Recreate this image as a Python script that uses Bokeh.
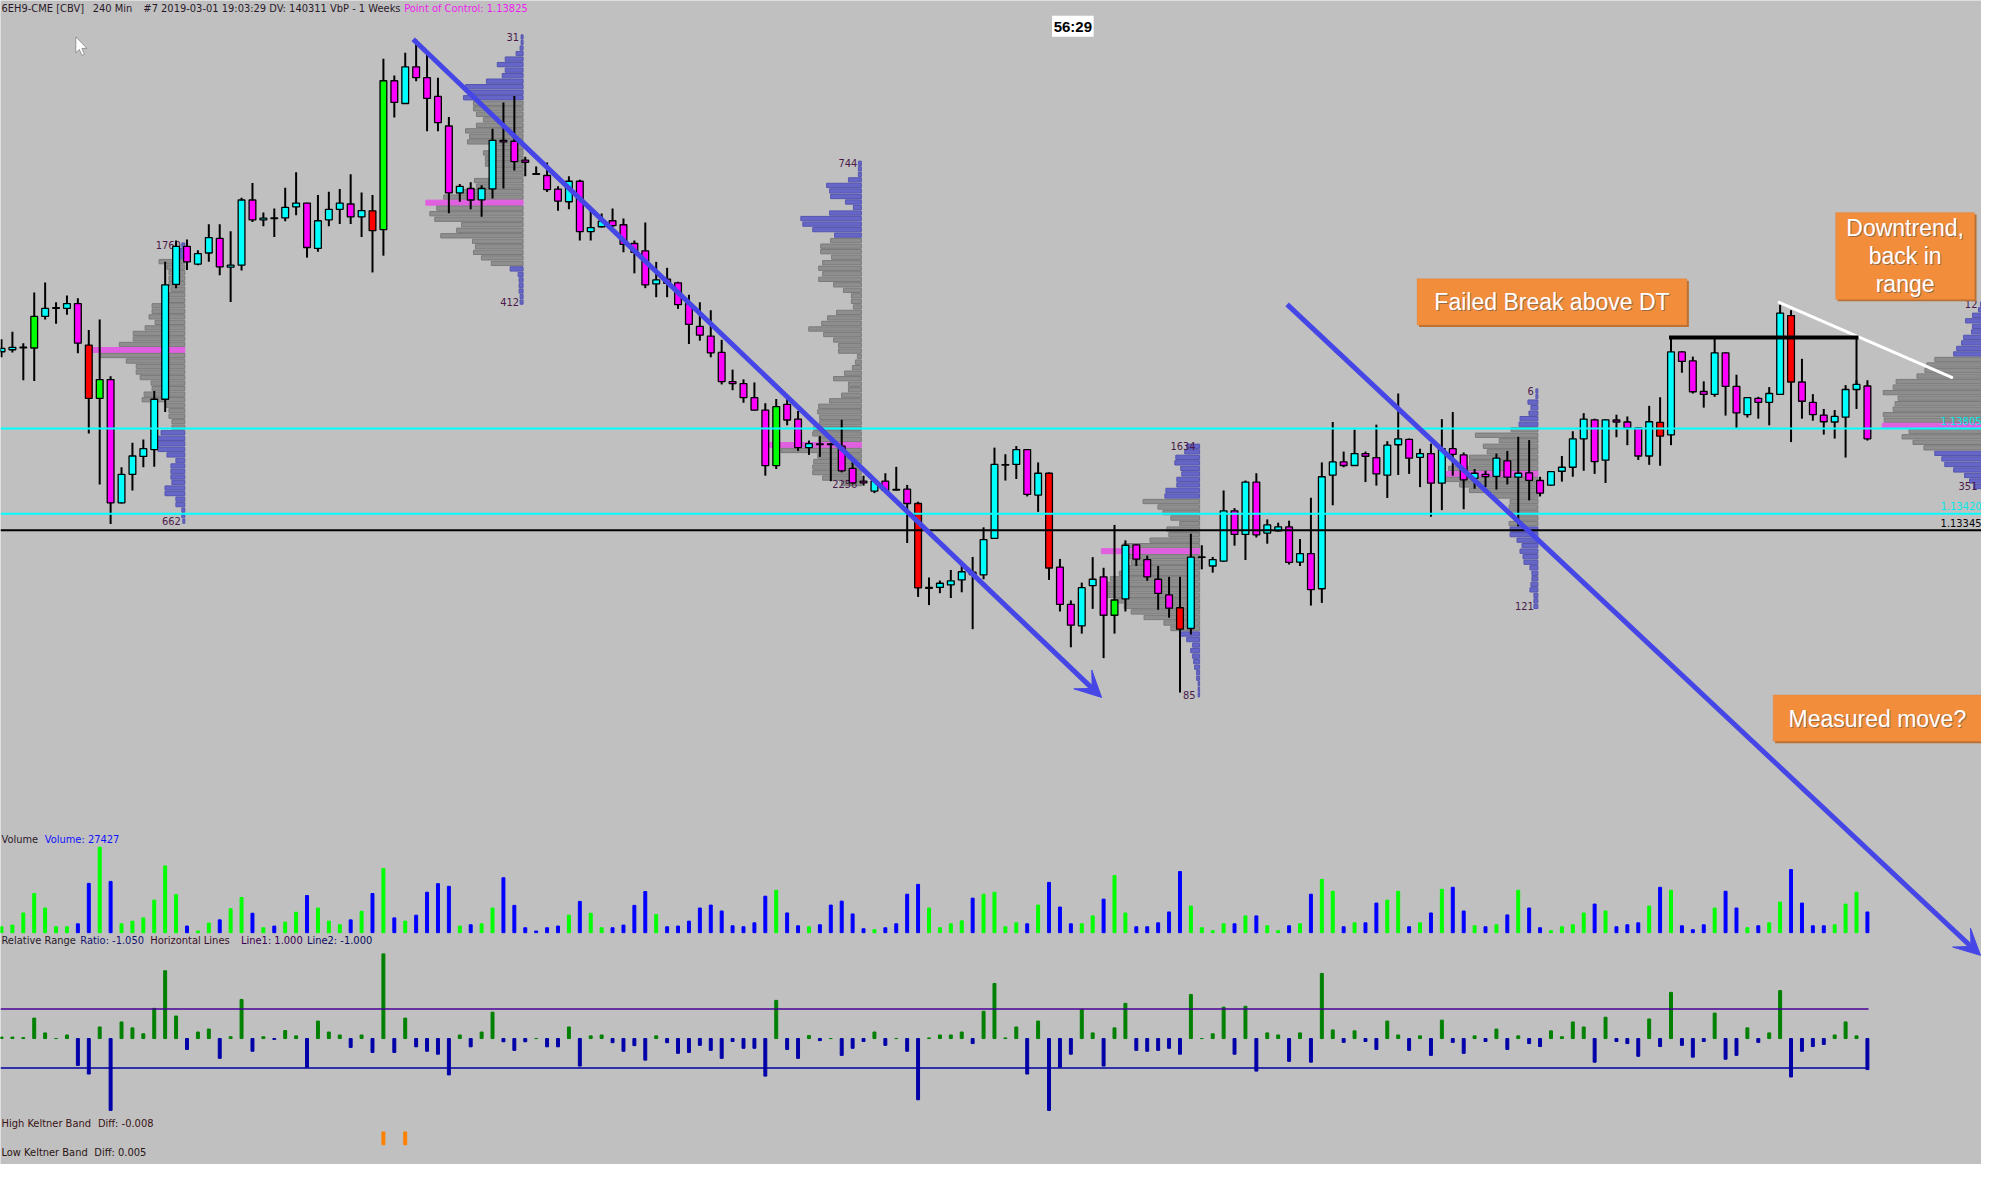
import numpy as np
from bokeh.plotting import figure
from bokeh.models import (ColumnDataSource, Range1d, Span, Arrow, VeeHead, Label,
                          BoxAnnotation, PolyAnnotation)
from bokeh.core.properties import value
from bokeh.embed import file_html
from bokeh.resources import INLINE

# ------------------------------------------------------------------ data
opens = [
    1.14153, 1.14162, 1.14172, 1.14170, 1.14313, 1.14350, 1.14349, 1.14371, 1.14183, 1.13942,
    1.14027, 1.13469, 1.13598, 1.13679, 1.13710, 1.13938, 1.14458, 1.14630, 1.14550, 1.14600,
    1.14666, 1.14536, 1.14545, 1.14840, 1.14750, 1.14759, 1.14759, 1.14809, 1.14826, 1.14621,
    1.14750, 1.14798, 1.14822, 1.14764, 1.14791, 1.14706, 1.15380, 1.15277, 1.15443, 1.15394,
    1.15309, 1.15175, 1.14872, 1.14892, 1.14841, 1.14890, 1.15110, 1.15106, 1.15021, 1.14958,
    1.14951, 1.14889, 1.14832, 1.14925, 1.14697, 1.14719, 1.14746, 1.14728, 1.14643, 1.14610,
    1.14460, 1.14482, 1.14465, 1.14371, 1.14268, 1.14224, 1.14150, 1.14018, 1.14009, 1.13945,
    1.13889, 1.13637, 1.13915, 1.13848, 1.13719, 1.13735, 1.13735, 1.13726, 1.13625, 1.13567,
    1.13522, 1.13567, 1.13529, 1.13531, 1.13466, 1.13082, 1.13086, 1.13098, 1.13120, 1.13155,
    1.13143, 1.13308, 1.13640, 1.13643, 1.13710, 1.13504, 1.13603, 1.13178, 1.13009, 1.12912,
    1.13094, 1.13134, 1.12960, 1.13034, 1.13279, 1.13212, 1.13123, 1.13052, 1.12994, 1.12900,
    1.13222, 1.13183, 1.13205, 1.13433, 1.13326, 1.13563, 1.13332, 1.13342, 1.13360, 1.13201,
    1.13239, 1.13080, 1.13594, 1.13654, 1.13638, 1.13692, 1.13674, 1.13594, 1.13732, 1.13756,
    1.13675, 1.13692, 1.13558, 1.13714, 1.13686, 1.13580, 1.13598, 1.13589, 1.13659, 1.13585,
    1.13605, 1.13570, 1.13549, 1.13612, 1.13630, 1.13759, 1.13845, 1.13662, 1.13844, 1.13835,
    1.13808, 1.13681, 1.13833, 1.13777, 1.14152, 1.14112, 1.13973, 1.13960, 1.14148, 1.13996,
    1.13868, 1.13942, 1.13924, 1.13960, 1.14317, 1.14016, 1.13924, 1.13866, 1.13835, 1.13857,
    1.13982, 1.13998]
highs = [
    1.14210, 1.14243, 1.14192, 1.14421, 1.14466, 1.14377, 1.14408, 1.14395, 1.14252, 1.14299,
    1.14042, 1.13630, 1.13741, 1.13756, 1.13975, 1.14560, 1.14657, 1.14661, 1.14612, 1.14730,
    1.14730, 1.14698, 1.14850, 1.14917, 1.14783, 1.14801, 1.14895, 1.14966, 1.14828, 1.14863,
    1.14877, 1.14890, 1.14957, 1.14874, 1.14863, 1.15480, 1.15404, 1.15507, 1.15568, 1.15502,
    1.15394, 1.15216, 1.14913, 1.14920, 1.14907, 1.15163, 1.15282, 1.15311, 1.15036, 1.14992,
    1.15010, 1.14902, 1.14947, 1.14932, 1.14791, 1.14779, 1.14801, 1.14756, 1.14657, 1.14738,
    1.14560, 1.14533, 1.14470, 1.14411, 1.14377, 1.14341, 1.14207, 1.14072, 1.14028, 1.14014,
    1.13920, 1.13939, 1.13945, 1.13885, 1.13751, 1.13771, 1.13741, 1.13845, 1.13659, 1.13592,
    1.13573, 1.13603, 1.13632, 1.13550, 1.13474, 1.13131, 1.13117, 1.13165, 1.13186, 1.13224,
    1.13358, 1.13719, 1.13689, 1.13726, 1.13712, 1.13652, 1.13607, 1.13215, 1.13027, 1.13108,
    1.13223, 1.13175, 1.13369, 1.13299, 1.13281, 1.13230, 1.13183, 1.13134, 1.13134, 1.13329,
    1.13277, 1.13224, 1.13525, 1.13445, 1.13570, 1.13603, 1.13394, 1.13379, 1.13388, 1.13305,
    1.13492, 1.13652, 1.13835, 1.13701, 1.13800, 1.13701, 1.13823, 1.13748, 1.13964, 1.13760,
    1.13714, 1.13737, 1.13848, 1.13880, 1.13697, 1.13622, 1.13614, 1.13692, 1.13704, 1.13768,
    1.13753, 1.13587, 1.13612, 1.13681, 1.13793, 1.13875, 1.13850, 1.13848, 1.13868, 1.13860,
    1.13810, 1.13908, 1.13947, 1.14155, 1.14155, 1.14131, 1.14019, 1.14150, 1.14150, 1.14049,
    1.13947, 1.13949, 1.13993, 1.14366, 1.14341, 1.14121, 1.13961, 1.13894, 1.13889, 1.14002,
    1.14024, 1.14024]
lows = [
    1.14128, 1.14150, 1.14024, 1.14021, 1.14299, 1.14280, 1.14320, 1.14146, 1.13783, 1.13552,
    1.13373, 1.13466, 1.13525, 1.13630, 1.13632, 1.13880, 1.14441, 1.14523, 1.14545, 1.14561,
    1.14499, 1.14378, 1.14521, 1.14740, 1.14721, 1.14673, 1.14744, 1.14771, 1.14579, 1.14606,
    1.14721, 1.14731, 1.14731, 1.14673, 1.14512, 1.14588, 1.15213, 1.15275, 1.15378, 1.15151,
    1.15151, 1.14780, 1.14832, 1.14798, 1.14764, 1.14847, 1.14892, 1.14974, 1.14947, 1.14955,
    1.14876, 1.14791, 1.14798, 1.14657, 1.14657, 1.14716, 1.14716, 1.14604, 1.14508, 1.14441,
    1.14400, 1.14400, 1.14347, 1.14188, 1.14203, 1.14128, 1.14005, 1.13979, 1.13922, 1.13887,
    1.13592, 1.13622, 1.13820, 1.13704, 1.13686, 1.13677, 1.13567, 1.13607, 1.13555, 1.13547,
    1.13513, 1.13518, 1.13525, 1.13287, 1.13043, 1.13006, 1.13060, 1.13038, 1.13064, 1.12897,
    1.13123, 1.13306, 1.13570, 1.13577, 1.13498, 1.13428, 1.13120, 1.12977, 1.12815, 1.12877,
    1.12989, 1.12766, 1.12877, 1.12977, 1.13183, 1.13116, 1.12985, 1.12949, 1.12610, 1.12873,
    1.13168, 1.13153, 1.13201, 1.13275, 1.13210, 1.13312, 1.13284, 1.13339, 1.13190, 1.13183,
    1.13004, 1.13016, 1.13458, 1.13630, 1.13636, 1.13563, 1.13547, 1.13491, 1.13595, 1.13600,
    1.13540, 1.13406, 1.13436, 1.13592, 1.13440, 1.13533, 1.13540, 1.13529, 1.13552, 1.13362,
    1.13480, 1.13498, 1.13547, 1.13565, 1.13587, 1.13614, 1.13600, 1.13559, 1.13766, 1.13730,
    1.13663, 1.13641, 1.13637, 1.13730, 1.14058, 1.13964, 1.13900, 1.13949, 1.13864, 1.13808,
    1.13855, 1.13850, 1.13820, 1.13958, 1.13744, 1.13850, 1.13841, 1.13778, 1.13760, 1.13674,
    1.13894, 1.13751]
closes = [
    1.14168, 1.14173, 1.14173, 1.14313, 1.14349, 1.14352, 1.14371, 1.14192, 1.13942, 1.14027,
    1.13469, 1.13598, 1.13681, 1.13714, 1.13938, 1.14456, 1.14630, 1.14560, 1.14597, 1.14670,
    1.14537, 1.14545, 1.14840, 1.14750, 1.14758, 1.14756, 1.14807, 1.14826, 1.14625, 1.14746,
    1.14798, 1.14826, 1.14764, 1.14792, 1.14701, 1.15380, 1.15282, 1.15443, 1.15394, 1.15300,
    1.15190, 1.14872, 1.14902, 1.14840, 1.14892, 1.15110, 1.15103, 1.15014, 1.15011, 1.14957,
    1.14887, 1.14835, 1.14925, 1.14697, 1.14715, 1.14744, 1.14724, 1.14639, 1.14603, 1.14456,
    1.14478, 1.14463, 1.14366, 1.14277, 1.14228, 1.14148, 1.14018, 1.14009, 1.13945, 1.13889,
    1.13637, 1.13905, 1.13844, 1.13719, 1.13737, 1.13733, 1.13733, 1.13614, 1.13559, 1.13559,
    1.13567, 1.13525, 1.13527, 1.13466, 1.13084, 1.13086, 1.13105, 1.13116, 1.13157, 1.13144,
    1.13302, 1.13643, 1.13642, 1.13710, 1.13507, 1.13603, 1.13174, 1.13009, 1.12915, 1.13085,
    1.13123, 1.12960, 1.13029, 1.13277, 1.13214, 1.13134, 1.13059, 1.12992, 1.12897, 1.13223,
    1.13224, 1.13212, 1.13433, 1.13326, 1.13563, 1.13324, 1.13369, 1.13360, 1.13199, 1.13239,
    1.13076, 1.13587, 1.13654, 1.13638, 1.13692, 1.13680, 1.13600, 1.13730, 1.13759, 1.13671,
    1.13692, 1.13558, 1.13714, 1.13688, 1.13573, 1.13603, 1.13588, 1.13671, 1.13585, 1.13603,
    1.13571, 1.13513, 1.13610, 1.13630, 1.13759, 1.13848, 1.13656, 1.13845, 1.13835, 1.13808,
    1.13681, 1.13836, 1.13771, 1.14152, 1.14109, 1.13972, 1.13960, 1.14148, 1.13996, 1.13876,
    1.13945, 1.13924, 1.13964, 1.14328, 1.14016, 1.13929, 1.13868, 1.13836, 1.13860, 1.13982,
    1.14005, 1.13759]
strong_bars = [3, 8, 9, 34, 35, 71, 84, 96, 102, 108, 152, 164]

volume = [
    7840, 10060, 26120, 51850, 32650, 7840, 7840, 11750, 65300, 113230,
    67910, 11750, 15280, 19590, 43100, 88420, 50540, 8750, 2220, 12670,
    16980, 31740, 46620, 25730, 6530, 8750, 13970, 27030, 49240, 32650,
    15280, 10450, 16980, 28340, 51850, 84890, 19590, 15280, 23120, 53550,
    64910, 61380, 8750, 10450, 11750, 32650, 72740, 36180, 6530, 2220,
    6530, 8750, 23120, 41400, 25730, 6530, 6530, 10060, 36180, 54460,
    23900, 7840, 8750, 15280, 32650, 36570, 28730, 9140, 7840, 13060,
    48320, 56160, 26120, 9140, 7840, 10450, 36570, 41790, 24810, 5220,
    3920, 6530, 11750, 50930, 63990, 32650, 6530, 11750, 15670, 45710,
    50930, 53550, 7840, 13060, 11750, 36570, 66610, 33960, 11750, 11750,
    22200, 44400, 75750, 26120, 7840, 7840, 13060, 27430, 80970, 35260,
    6530, 2610, 11750, 11750, 22200, 22200, 9140, 2610, 9140, 11750,
    50930, 70520, 54850, 7840, 13060, 13060, 39180, 43100, 54850, 7840,
    13060, 26120, 57460, 60080, 28730, 9140, 7840, 10450, 23510, 56160,
    32650, 6530, 2610, 7840, 10450, 26120, 37870, 28730, 7840, 10450,
    13060, 35260, 60080, 56160, 9140, 3920, 10450, 32650, 54850, 32650,
    6530, 9140, 13060, 40490, 83580, 39180, 9140, 9140, 10450, 37870,
    53550, 27427]

relative_range = [
    0.05, 0.05, 0.03, 0.69, 0.19, 0.0, 0.12, -0.91, -1.2, 0.39,
    -2.43, 0.56, 0.36, 0.16, 1.02, 2.29, 0.76, -0.37, 0.22, 0.32,
    -0.67, 0.06, 1.32, -0.43, 0.06, -0.03, 0.27, 0.09, -0.97, 0.59,
    0.22, 0.12, -0.3, 0.12, -0.47, 2.86, -0.47, 0.69, -0.28, -0.43,
    -0.53, -1.23, 0.12, -0.28, 0.22, 0.89, -0.11, -0.4, -0.11, 0.0,
    -0.28, -0.28, 0.39, -0.93, 0.09, 0.12, -0.14, -0.43, -0.24, -0.73,
    0.09, -0.14, -0.5, -0.47, -0.23, -0.4, -0.67, -0.1, -0.33, -0.33,
    -1.27, 1.29, -0.37, -0.67, 0.1, -0.07, 0.0, -0.57, -0.33, -0.1,
    0.22, -0.23, 0.0, -0.43, -2.07, 0.02, 0.12, 0.12, 0.22, -0.17,
    0.92, 1.86, 0.02, 0.39, -1.2, 0.59, -2.43, -0.97, -0.53, 0.98,
    0.19, -0.93, 0.36, 1.19, -0.4, -0.43, -0.4, -0.33, -0.53, 1.49,
    0.0, 0.16, 1.06, -0.53, 1.09, -1.1, 0.19, 0.12, -0.77, 0.19,
    -0.8, 2.2, 0.29, -0.13, 0.26, -0.1, -0.37, 0.59, 0.12, -0.4,
    0.09, -0.57, 0.62, -0.13, -0.5, 0.09, -0.1, 0.32, -0.37, 0.09,
    -0.17, -0.27, 0.26, 0.06, 0.56, 0.39, -0.8, 0.72, -0.1, -0.17,
    -0.6, 0.66, -0.27, 1.56, -0.23, -0.63, -0.1, 0.86, -0.7, -0.57,
    0.36, -0.13, 0.19, 1.62, -1.3, -0.43, -0.27, -0.2, 0.12, 0.56,
    0.09, -1.05]
rr_lines = [1.0, -1.0]
keltner_high_hits = [35, 37]

level_prices = [1.13805, 1.13420, 1.13345]
level_labels = ["1.13805", "1.13420", "1.13345"]

# weekly volume profiles (volume per 0.00025 price row, from the top row down)
vp_top_price = [1.14636, 1.15578, 1.15006, 1.13725, 1.13975, 1.14368]
vp_right_bar = [16.8, 47.8, 78.8, 109.8, 140.8, 181.45]
vp1 = [3, 5, 10, 26, 18, 16, 16, 16, 14, 16, 16, 33, 33, 36, 30, 40, 52, 52, 66, 94, 86, 59, 49, 49,
       45, 34, 33, 41, 43, 19, 16, 16, 13, 13, 24, 29, 29, 27, 18, 9, 14, 14, 14, 13, 20, 20, 9, 9, 3, 3, 2]
vp2 = [2, 2, 3, 7, 18, 26, 18, 21, 37, 58, 56, 60, 50, 50, 47, 40, 47, 58, 54, 56, 32, 40, 38, 38, 28,
       31, 49, 47, 67, 80, 98, 87, 94, 89, 62, 67, 83, 51, 48, 50, 42, 32, 13, 5, 4, 4, 4, 3, 3]
vp3 = [3, 3, 3, 13, 35, 32, 31, 16, 8, 32, 61, 59, 49, 27, 31, 41, 41, 30, 39, 43, 39, 43, 28, 18, 10,
       10, 8, 25, 34, 40, 53, 38, 28, 23, 23, 4, 6, 9, 17, 28, 13, 13, 20, 32, 43, 44, 42, 42, 48, 49,
       43, 94, 81, 44, 48, 49, 49, 39, 20]
vp4 = [13, 15, 24, 25, 19, 18, 23, 23, 34, 35, 57, 42, 37, 29, 20, 33, 31, 50, 77, 99, 73, 69, 72, 81,
       90, 95, 94, 93, 84, 76, 69, 56, 36, 29, 20, 13, 7, 9, 7, 6, 5, 3, 3, 1.5, 1.5, 1.5]
vp5 = [2, 2, 10, 7, 9, 18, 19, 27, 63, 39, 55, 51, 69, 69, 90, 94, 93, 79, 69, 45, 28, 29, 27, 20, 29,
       28, 28, 21, 16, 18, 15, 14, 8, 6, 6, 7, 8, 4, 4, 4]
vp6 = [1, 3, 9, 16, 9, 10, 18, 20, 25, 28, 47, 55, 57, 65, 86, 89, 99, 84, 87, 89, 99, 98, 100, 73, 80,
       69, 58, 47, 40, 37, 28, 17, 12, 8]
vp_vols = [vp1, vp2, vp3, vp4, vp5, vp6]
vp_value_area = [(3, 33), (12, 41), (14, 58), (10, 33), (7, 24), (10, 26)]
vp_poc_row = [19, 30, 51, 19, 15, 22]
vp_high_label = ["1760", "31", "744", "1634", "6", "12"]
vp_low_label = ["662", "412", "2256", "85", "121", "351"]
VP_STEP = 0.00025

# ------------------------------------------------------------------ geometry helpers
REF_W, REF_H = 1997, 1180
W, H = 1981, 1164
PX_PER_BAR = 11.0
PRICE_PER_PX = 0.00004466


def bx(px):
    return (px - 1.0) / PX_PER_BAR


def py(y):
    return 1.13805 + (434.0 - y) * PRICE_PER_PX


BG = "#c0c0c0"
NARROW = "'Liberation Sans Narrow', 'DejaVu Sans Condensed', sans-serif"
SANS = "'Liberation Sans', Arial, sans-serif"
BLUE_LINE = "#4646e6"

VOL_BASE_Y, VOL_PER_PX = 945.0, 1306.0
RR_ZERO_Y, RR_PX = 1052.3, 30.0
KEL_BASE_Y, KEL_PX = 1160.0, 13.0

p = figure(width=W, height=H, title=None,
           x_range=Range1d(bx(0), bx(REF_W)), y_range=Range1d(py(REF_H), py(0)),
           output_backend="svg", toolbar_location=None,
           x_axis_location=None, y_axis_location=None, min_border=0,
           background_fill_color=BG, border_fill_color=BG, outline_line_color=None)
p.xgrid.visible = False
p.ygrid.visible = False
p.grid.grid_line_color = None
p.extra_y_ranges = {
    "vol": Range1d(-(REF_H - VOL_BASE_Y) * VOL_PER_PX, VOL_BASE_Y * VOL_PER_PX),
    "rr": Range1d(-(REF_H - RR_ZERO_Y) / RR_PX, RR_ZERO_Y / RR_PX),
    "kel": Range1d(-(REF_H - KEL_BASE_Y) / KEL_PX, KEL_BASE_Y / KEL_PX),
}

n = len(opens)
idx = np.arange(n)
o = np.array(opens); c = np.array(closes); hi = np.array(highs); lo = np.array(lows)

# ------------------------------------------------------------------ volume profiles
rows = dict(y=[], left=[], right=[], fill=[], line=[], h=[])
for k_p, vols in enumerate(vp_vols):
    right = vp_right_bar[k_p]
    va0, va1 = vp_value_area[k_p]
    for k, v in enumerate(vols):
        yy = vp_top_price[k_p] - k * VP_STEP
        rows["y"].append(yy)
        rows["right"].append(right)
        rows["left"].append(right - v / PX_PER_BAR)
        if k == vp_poc_row[k_p]:
            rows["fill"].append("#e060e0"); rows["line"].append("#e060e0"); rows["h"].append(VP_STEP * 0.9)
        elif va0 <= k <= va1:
            rows["fill"].append("#8e8e8e"); rows["line"].append("#7a7a7a"); rows["h"].append(VP_STEP * 0.78)
        else:
            rows["fill"].append("#6666c8"); rows["line"].append("#5555b0"); rows["h"].append(VP_STEP * 0.78)
p.hbar(y="y", left="left", right="right", height="h", fill_color="fill", line_color="line",
       line_width=1, source=ColumnDataSource(rows))

lab_x, lab_y, lab_t = [], [], []
for k_p, vols in enumerate(vp_vols):
    lab_x += [vp_right_bar[k_p]] * 2
    lab_y += [vp_top_price[k_p], vp_top_price[k_p] - (len(vols) - 1) * VP_STEP]
    lab_t += [vp_high_label[k_p], vp_low_label[k_p]]
p.text(x=lab_x, y=lab_y, text=lab_t, x_offset=-4, text_align="right", text_baseline="middle",
       text_font=value(NARROW), text_font_size="11px", text_color="#4a1a4a")

# ------------------------------------------------------------------ candles
body_top = np.maximum(o, c); body_bot = np.minimum(o, c)
thin = (body_top - body_bot) < 2.6e-5
mid = (body_top + body_bot) / 2
body_top = np.where(thin, mid + 1.3e-5, body_top)
body_bot = np.where(thin, mid - 1.3e-5, body_bot)
up = c >= o
colors = []
for i in range(n):
    if i in strong_bars:
        colors.append("#00ff00" if up[i] else "#ff0000")
    else:
        colors.append("#00ffff" if up[i] else "#ff00ff")
csrc = ColumnDataSource(dict(x=idx, hi=hi, lo=lo, top=body_top, bot=body_bot, col=colors))
p.segment(x0="x", y0="lo", x1="x", y1="hi", line_color="black", line_width=2, source=csrc)
p.vbar(x="x", top="top", bottom="bot", width=0.62, fill_color="col", line_color="black",
       line_width=1.3, source=csrc)

# ------------------------------------------------------------------ volume panel
vcol = ["#00ff00" if u else "#0000ff" for u in up]
p.vbar(x=idx, top=volume, bottom=0, width=0.27, color=vcol, y_range_name="vol")

# ------------------------------------------------------------------ relative range panel
rr = np.array(relative_range)
rcol = ["#008000" if v >= 0 else "#0000a8" for v in rr]
p.vbar(x=idx, top=rr, bottom=0, width=0.27, color=rcol, y_range_name="rr")
p.segment(x0=[bx(0)] * 2, x1=[n - 1 + 0.1] * 2, y0=rr_lines, y1=rr_lines,
          line_color=["#4b0096", "#0000a0"], line_width=1.5, y_range_name="rr")

# ------------------------------------------------------------------ keltner marks
p.vbar(x=keltner_high_hits, top=1, bottom=0, width=0.27, color="#ff8000", y_range_name="kel")

# ------------------------------------------------------------------ horizontal levels
for pr, colr in zip(level_prices, ["#00ffff", "#00ffff", "#000000"]):
    p.add_layout(Span(location=pr, dimension="width", line_color=colr, line_width=2))
for pr, txt, colr in zip(level_prices, level_labels, ["#00e8e8", "#00e8e8", "#000000"]):
    p.add_layout(Label(x=bx(REF_W), y=pr + 7.3 * PRICE_PER_PX, text=txt, text_align="right",
                       text_baseline="middle", text_font=NARROW, text_font_size="11px",
                       text_color=colr))

# ------------------------------------------------------------------ drawn trend lines
p.add_layout(Arrow(x_start=bx(416), y_start=py(39.3), x_end=bx(1110), y_end=py(706.5),
                   line_color=BLUE_LINE, line_width=5,
                   end=VeeHead(size=26, fill_color=BLUE_LINE, line_color=BLUE_LINE, line_width=1)))
p.add_layout(Arrow(x_start=bx(1297), y_start=py(308), x_end=bx(1996), y_end=py(968),
                   line_color=BLUE_LINE, line_width=5,
                   end=VeeHead(size=26, fill_color=BLUE_LINE, line_color=BLUE_LINE, line_width=1)))
p.segment(x0=[bx(1793)], y0=[py(306)], x1=[bx(1967)], y1=[py(382)], line_color="white",
          line_width=3, line_cap="round")
p.segment(x0=[bx(1682)], y0=[py(341.7)], x1=[bx(1873)], y1=[py(341.7)], line_color="black", line_width=4)
p.segment(x0=[bx(1684), bx(1728), bx(1871)], y0=[py(341.7)] * 3,
          x1=[bx(1684), bx(1728), bx(1871)], y1=[py(356.3), py(357.3), py(389.3)],
          line_color="black", line_width=2)

# ------------------------------------------------------------------ orange callouts
def callout(x0, y0, x1, y1, lines, centers):
    p.add_layout(BoxAnnotation(left=bx(x0 + 2), right=bx(x1 + 2), top=py(y0 + 2), bottom=py(y1 + 2),
                               fill_color="#b87035", fill_alpha=1, line_color=None))
    p.add_layout(BoxAnnotation(left=bx(x0), right=bx(x1), top=py(y0), bottom=py(y1),
                               fill_color="#f28d3c", fill_alpha=1, line_color="#e07f34"))
    xc = (x0 + x1) / 2
    for txt, yc in zip(lines, centers):
        p.add_layout(Label(x=bx(xc), y=py(yc), text=txt, text_align="center", text_baseline="middle",
                           text_font=SANS, text_font_size="23px", text_color="#9a6a45",
                           x_offset=1, y_offset=-1))
        p.add_layout(Label(x=bx(xc), y=py(yc), text=txt, text_align="center", text_baseline="middle",
                           text_font=SANS, text_font_size="23px", text_color="white"))


callout(1428, 282, 1700, 329, ["Failed Break above DT"], [306])
callout(1850, 215, 1990, 303, ["Downtrend,", "back in", "range"], [231, 259, 287])
callout(1787, 704, 1997, 751, ["Measured move?"], [728])

# ------------------------------------------------------------------ header & panel titles
def lab(x, y, txt, colr, size="11px", font=NARROW, style="normal", align="left"):
    p.add_layout(Label(x=bx(x), y=py(y), text=txt, text_color=colr, text_font=font,
                       text_font_size=size, text_font_style=style, text_align=align,
                       text_baseline="middle"))


lab(1, 8.5, "6EH9-CME [CBV]", "#2a1a2a")
lab(93, 8.5, "240 Min", "#2a1a2a")
lab(144, 8.5, "#7 2019-03-01 19:03:29 DV: 140311 VbP - 1 Weeks", "#2a1a2a")
lab(407, 8.5, "Point of Control: 1.13825", "#ee22ee")

p.add_layout(BoxAnnotation(left=bx(1060), right=bx(1102), top=py(15.5), bottom=py(36.7),
                           fill_color="white", fill_alpha=1, line_color=None))
lab(1081, 26.2, "56:29", "black", size="15px", font=SANS, style="bold", align="center")

lab(1, 851, "Volume", "#2a1a2a")
lab(44.6, 851, "Volume: 27427", "#1010ff")
lab(1, 953, "Relative Range", "#2a1a2a")
lab(80.4, 953, "Ratio: -1.050", "#14146e")
lab(150.9, 953, "Horizontal Lines", "#3a1028")
lab(242.4, 953, "Line1: 1.000", "#3c0050")
lab(308.9, 953, "Line2: -1.000", "#0a0a60")
lab(1, 1138.5, "High Keltner Band", "#3a1414")
lab(98.2, 1138.5, "Diff: -0.008", "#3a1414")
lab(1, 1168, "Low Keltner Band", "#2a1414")
lab(94.6, 1168, "Diff: 0.005", "#2a1414")

# mouse pointer
p.add_layout(PolyAnnotation(xs=[bx(76), bx(76), bx(79.5), bx(82), bx(84.5), bx(82), bx(87)],
                            ys=[py(37), py(53), py(49.5), py(55.5), py(54.5), py(48.5), py(48.5)],
                            fill_color="white", fill_alpha=1, line_color="black", line_width=1))

open("out.html", "w").write(file_html(p, INLINE))
